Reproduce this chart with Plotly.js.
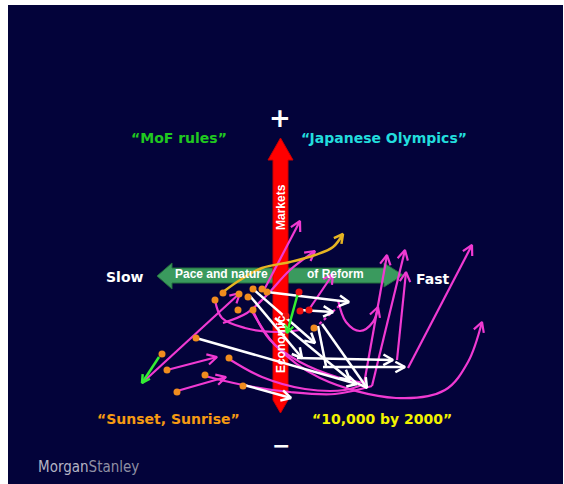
<!DOCTYPE html>
<html><head><meta charset="utf-8">
<script src="https://cdn.plot.ly/plotly-3.0.1.min.js"></script>
<style>html,body{margin:0;padding:0;background:#fff;}#chart{width:564px;height:484px;}</style>
</head><body><div id="chart"></div>
<script>
// ---- frame (pixel-like data space) ----
const xRange = [8, 563];
const yRange = [484, 5];

// ---- big axis arrows (polygons) ----
const reformArrowX = [157,172,172,384,384,403,384,384,172,172,157];
const reformArrowY = [276,263,268,268,263,275,287,283,283,289,276];
const marketArrowX = [280.5,293,288,288,280.5,273,273,268,280.5];
const marketArrowY = [138,160,160,400,413,400,160,160,138];

// ---- scenario paths ----
const magentaStraight = [
  [[142,383],[240,293]],
  [[167,370],[217,357]],
  [[177,391],[226,377]],
  [[364,384],[387,255]],
  [[372,386],[405,250]],
  [[397,360],[406,272]],
  [[408,368],[472,245]],
  [[264,290],[300,221]],
  [[310,308],[333,274]]
];
const magentaCurves = [
  [[252,311],[275,345],[320,378],[396,398],[445,390],[468,362],[482,322]],
  [[338,300],[346,322],[360,331],[373,322],[378,307]],
  [[223,323],[247,313],[265,297],[290,270],[315,251]]
];
const magentaCurvesNoHead = [
  [[229,359],[262,377],[305,389],[345,390],[364,384]],
  [[205,376],[243,385],[290,392],[335,394],[372,386]],
  [[215,300],[222,318],[245,328],[275,332],[300,330]],
  [[253,311],[270,340],[300,362],[340,378],[365,383]]
];
const magentaDotted = [[315,328],[340,305]];
const whiteArrows = [
  [[196,338],[357,384]],
  [[267,292],[349,302]],
  [[300,310],[333,312]],
  [[253,289],[315,343]],
  [[250,296],[302,358]],
  [[297,358],[393,360]],
  [[323,367],[405,367]],
  [[322,324],[367,388]],
  [[244,385],[291,398]],
  [[275,318],[350,380]]
];
const whiteLines = [[[318,326],[326,366]]];
const greenArrows = [
  [[159,357],[142,383]],
  [[298,293],[287,333]]
];
const yellowCurve = [[223,292],[240,280],[262,268],[290,262],[315,255],[333,247],[343,234]];
const orangeDots = [[223,293],[215,300],[239,294],[248,297],[253,289],[262,289],[267,292],[238,310],[253,310],[196,338],[162,354],[167,370],[229,358],[205,375],[177,392],[243,386],[314,328]];
const redDots = [[299,292],[300,311],[309,310],[286,316]];

// ---- labels ----
const quadrantLabels = ['\u201cMoF rules\u201d', '\u201cJapanese Olympics\u201d', '\u201cSunset, Sunrise\u201d', '\u201c10,000 by 2000\u201d'];
const quadrantColors = ['#20c820', '#22dddd', '#f59a12', '#f2f200'];
const axisWords = ['Slow', 'Fast', '+', '\u2212'];

// ---- build ----
const MAG = '#f03ad2';
const traces = [];
function line(pts, color, width, spline, dash) {
  traces.push({x: pts.map(p=>p[0]), y: pts.map(p=>p[1]), mode:'lines', hoverinfo:'skip',
    line:{color:color, width:width, shape: spline ? 'spline' : 'linear', smoothing: 1, dash: dash || 'solid'}});
}
function heads(list, color, width, L) {
  const hx = [], hy = [];
  list.forEach(pts => {
    const p0 = pts[pts.length-2], p1 = pts[pts.length-1];
    const th = Math.atan2(p1[1]-p0[1], p1[0]-p0[0]);
    const a = 0.5;
    hx.push(p1[0]-L*Math.cos(th-a), p1[0], p1[0]-L*Math.cos(th+a), null);
    hy.push(p1[1]-L*Math.sin(th-a), p1[1], p1[1]-L*Math.sin(th+a), null);
  });
  traces.push({x:hx, y:hy, mode:'lines', hoverinfo:'skip', line:{color:color, width:width}});
}
// big arrows
traces.push({x:reformArrowX, y:reformArrowY, mode:'lines', fill:'toself', fillcolor:'#3a9a5e', line:{color:'#226e3d', width:1}, hoverinfo:'skip'});
traces.push({x:marketArrowX, y:marketArrowY, mode:'lines', fill:'toself', fillcolor:'#ff0000', line:{color:'#cc0000', width:1}, hoverinfo:'skip'});

magentaCurvesNoHead.forEach(p => line(p, MAG, 2.2, true));
magentaCurves.forEach(p => line(p, MAG, 2.2, true));
magentaStraight.forEach(p => line(p, MAG, 2.2, false));
line(magentaDotted, MAG, 2.2, false, 'dot');
heads(magentaCurves.concat(magentaStraight), MAG, 2.2, 11);
whiteArrows.forEach(p => line(p, '#ffffff', 2.5, false));
whiteLines.forEach(p => line(p, '#ffffff', 2.5, false));
heads(whiteArrows, '#ffffff', 2.5, 11);
greenArrows.forEach(p => line(p, '#33ee33', 2.5, false));
heads(greenArrows, '#33ee33', 2.5, 9);
line(yellowCurve, '#e6b422', 2.5, true);
heads([yellowCurve], '#e6b422', 2.5, 10);
traces.push({x: orangeDots.map(p=>p[0]), y: orangeDots.map(p=>p[1]), mode:'markers', hoverinfo:'skip', marker:{color:'#f08c1e', size:7}});
traces.push({x: redDots.map(p=>p[0]), y: redDots.map(p=>p[1]), mode:'markers', hoverinfo:'skip', marker:{color:'#ee1111', size:7}});

const bold = 'DejaVu Sans';
function ann(text, x, y, size, color, family, extra) {
  return Object.assign({text:text, x:x, y:y, xref:'x', yref:'y', showarrow:false,
    font:{size:size, color:color, family:family}, xanchor:'center', yanchor:'middle'}, extra || {});
}
const annotations = [
  ann('<b>'+quadrantLabels[0]+'</b>', 179, 138, 14, quadrantColors[0], bold),
  ann('<b>'+quadrantLabels[1]+'</b>', 384, 138, 14, quadrantColors[1], bold),
  ann('<b>'+quadrantLabels[2]+'</b>', 168, 419, 14, quadrantColors[2], bold),
  ann('<b>'+quadrantLabels[3]+'</b>', 382, 419, 14, quadrantColors[3], bold),
  ann('<b>'+axisWords[0]+'</b>', 125, 277, 14, '#ffffff', bold),
  ann('<b>'+axisWords[1]+'</b>', 433, 279, 14, '#ffffff', bold),
  ann('<b>'+axisWords[2]+'</b>', 280, 118, 26, '#ffffff', bold),
  ann('<b>'+axisWords[3]+'</b>', 281, 445, 22, '#ffffff', bold),
  ann('<b>Pace and nature</b>', 221, 274, 12, '#ffffff', 'Liberation Sans'),
  ann('<b>of Reform</b>', 335, 274, 12, '#ffffff', 'Liberation Sans'),
  ann('<b>Markets</b>', 281, 207, 12, '#ffffff', 'Liberation Sans', {textangle:-90}),
  ann('<b>Economic</b>', 281, 344, 12, '#ffffff', 'Liberation Sans', {textangle:-90}),
  ann('Morgan<span style="color:#8f8fa3">Stanley</span>', 36, 467, 15, '#b4b4c4', 'Liberation Sans Narrow, DejaVu Sans Condensed', {xanchor:'left'})
];

const layout = {
  width:564, height:484,
  margin:{l:8, r:1, t:5, b:0, pad:0},
  paper_bgcolor:'#ffffff', plot_bgcolor:'#03033a',
  showlegend:false,
  xaxis:{range:xRange, visible:false, fixedrange:true},
  yaxis:{range:yRange, visible:false, fixedrange:true},
  annotations:annotations
};
Plotly.newPlot('chart', traces, layout, {staticPlot:true, displayModeBar:false});
</script></body></html>
